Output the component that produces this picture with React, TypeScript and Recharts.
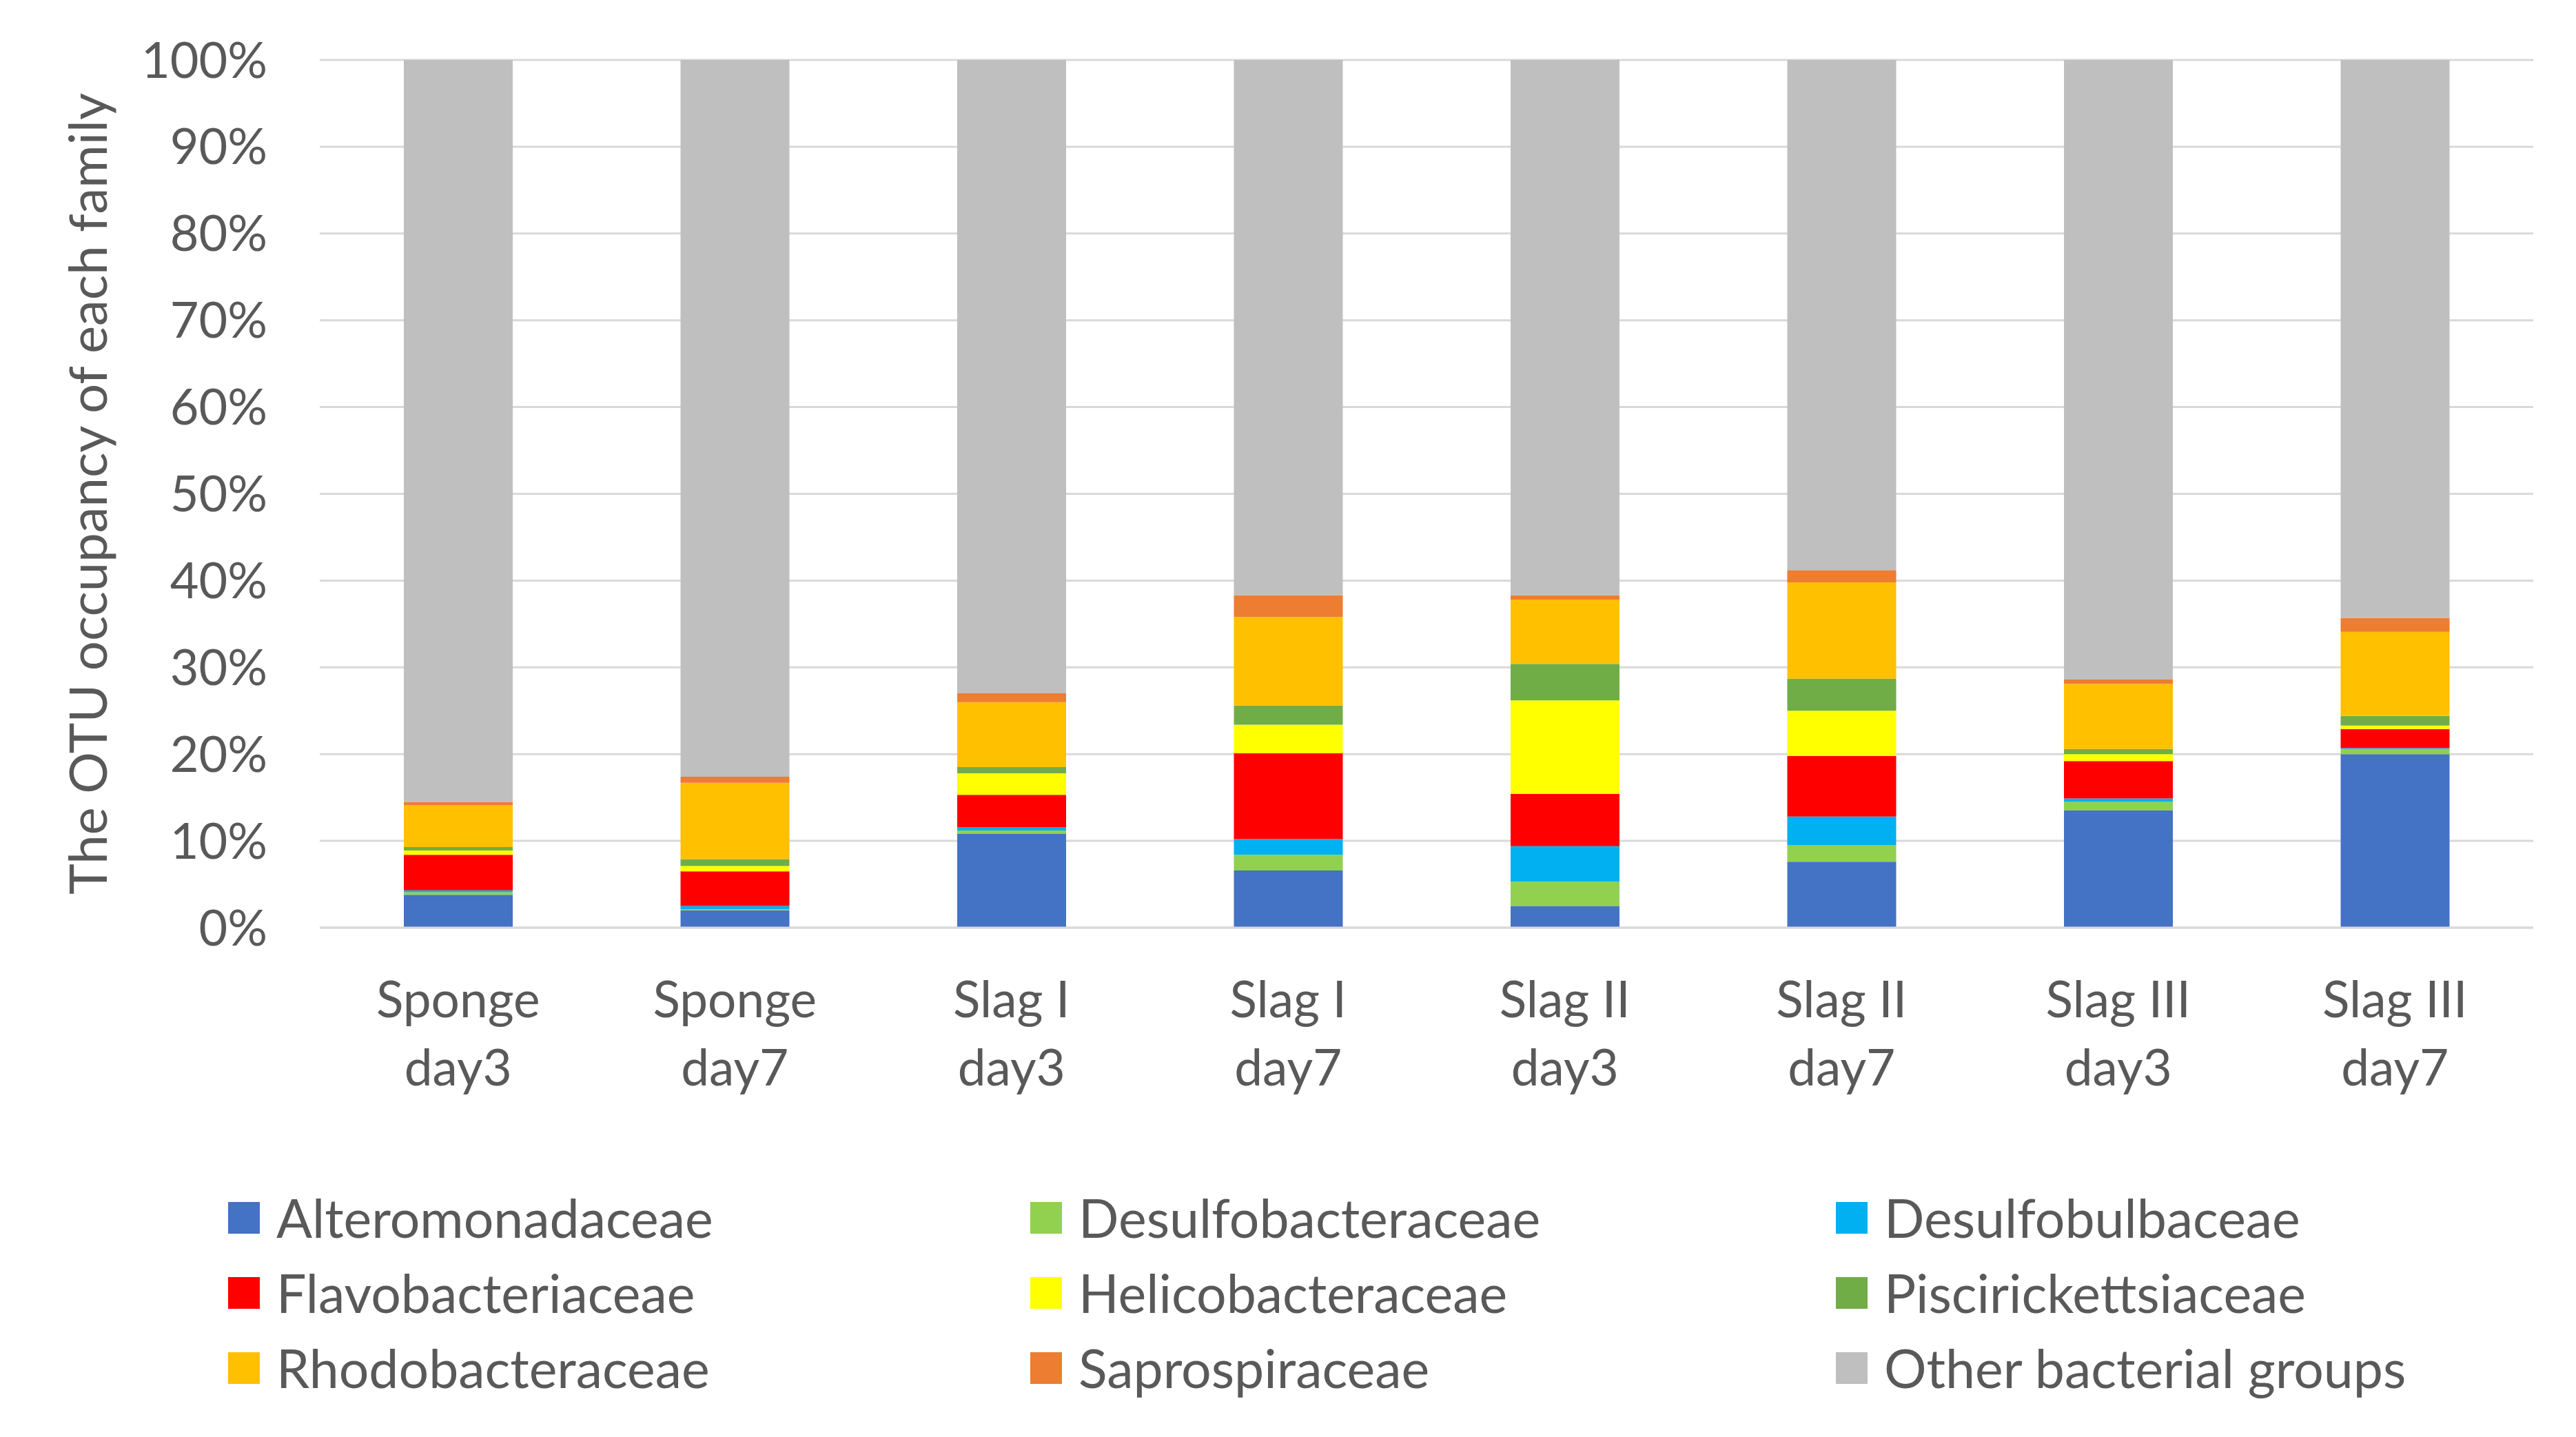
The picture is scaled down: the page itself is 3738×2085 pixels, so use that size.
import React from 'react';
import { BarChart, Bar, XAxis, YAxis, CartesianGrid, Legend } from 'recharts';

// sample groups, two-line labels
const categories = [
    'Sponge\nday3', 'Sponge\nday7', 'Slag I\nday3', 'Slag I\nday7',
    'Slag II\nday3', 'Slag II\nday7', 'Slag III\nday3', 'Slag III\nday7',
];

// share of OTUs per family (%) bottom to top
const alteromonadaceae = [3.8, 2.0, 10.8, 6.6, 2.5, 7.6, 13.5, 20.0];
const desulfobacteraceae = [0.3, 0.1, 0.4, 1.8, 2.8, 1.9, 1.0, 0.6];
const desulfobulbaceae = [0.2, 0.4, 0.4, 1.8, 4.1, 3.3, 0.4, 0.1];
const flavobacteriaceae = [4.1, 4.0, 3.7, 9.9, 6.0, 7.0, 4.3, 2.2];
const helicobacteraceae = [0.5, 0.6, 2.5, 3.3, 10.8, 5.2, 0.8, 0.4];
const piscirickettsiaceae = [0.4, 0.8, 0.7, 2.2, 4.2, 3.7, 0.6, 1.1];
const rhodobacteraceae = [4.8, 8.8, 7.5, 10.2, 7.4, 11.1, 7.5, 9.7];
const saprospiraceae = [0.4, 0.7, 1.0, 2.5, 0.5, 1.4, 0.5, 1.6];
const otherGroups = [85.5, 82.6, 73.0, 61.7, 61.7, 58.8, 71.4, 64.3];

const yTicks = [0, 10, 20, 30, 40, 50, 60, 70, 80, 90, 100];

const families = [
    { key: 'Alteromonadaceae', values: alteromonadaceae, color: '#4472C4' },
    { key: 'Desulfobacteraceae', values: desulfobacteraceae, color: '#92D050' },
    { key: 'Desulfobulbaceae', values: desulfobulbaceae, color: '#00B0F0' },
    { key: 'Flavobacteriaceae', values: flavobacteriaceae, color: '#FF0000' },
    { key: 'Helicobacteraceae', values: helicobacteraceae, color: '#FFFF00' },
    { key: 'Piscirickettsiaceae', values: piscirickettsiaceae, color: '#70AD47' },
    { key: 'Rhodobacteraceae', values: rhodobacteraceae, color: '#FFC000' },
    { key: 'Saprospiraceae', values: saprospiraceae, color: '#ED7D31' },
    { key: 'Other bacterial groups', values: otherGroups, color: '#BFBFBF' },
];

const data = categories.map((name, i) => {
    const row: Record<string, any> = { name };
    families.forEach((f) => { row[f.key] = f.values[i]; });
    return row;
});

const FONT = 'Lato, "Liberation Sans", sans-serif';
const TEXT = '#595959';

const CategoryTick = (props: any) => {
    const { x, y, payload } = props;
    const lines = String(payload.value).split('\n');
    return (
        <g transform={`translate(${x},${y})`}>
            {lines.map((line, i) => (
                <text key={i} x={0} y={130 + i * 99} textAnchor="middle" fill={TEXT} fontSize={73} fontFamily={FONT}>
                    {line}
                </text>
            ))}
        </g>
    );
};

const AxisTitle = (props: any) => {
    const { viewBox } = props;
    const cx = 125;
    const cy = viewBox.y + viewBox.height / 2;
    return (
        <text x={cx} y={cy} transform={`rotate(-90, ${cx}, ${cy})`} textAnchor="middle" dominantBaseline="central"
            fill={TEXT} fontSize={76} fontFamily={FONT}>
            The OTU occupancy of each family
        </text>
    );
};

const FamilyLegend = () => (
    <div style={{ display: 'grid', gridTemplateColumns: '1164px 1169px 1000px', paddingLeft: 331 }}>
        {families.map((f) => (
            <div key={f.key} style={{ display: 'flex', alignItems: 'center', height: 109 }}>
                <div style={{ width: 46, height: 46, backgroundColor: f.color, marginRight: 24, flexShrink: 0 }} />
                <span style={{ fontFamily: FONT, fontSize: 77, color: TEXT, whiteSpace: 'nowrap', lineHeight: 1 }}>{f.key}</span>
            </div>
        ))}
    </div>
);

export default function App() {
    return (
        <div style={{ position: 'absolute', left: 0, top: 0, width: 3738, height: 2085, background: '#fff' }}>
            <BarChart width={3738} height={2085} data={data} margin={{ top: 87, right: 62, left: 0, bottom: 179 }} barSize={158}>
                <CartesianGrid vertical={false} stroke="#D9D9D9" strokeWidth={3} />
                <XAxis dataKey="name" height={230} tickLine={false} axisLine={{ stroke: '#D9D9D9', strokeWidth: 3 }}
                    tickSize={0} tickMargin={0} tick={<CategoryTick />} interval={0} />
                <YAxis width={464} domain={[0, 100]} ticks={yTicks} tickFormatter={(v) => `${v}%`}
                    tickLine={false} axisLine={false} tickSize={0} tickMargin={76}
                    tick={{ fill: TEXT, fontSize: 72, fontFamily: FONT }} label={<AxisTitle />} />
                <Legend height={330} content={<FamilyLegend />}
                    wrapperStyle={{ left: 0, top: 1712, bottom: 'auto', width: 3738 }} />
                {families.map((f) => (
                    <Bar key={f.key} dataKey={f.key} stackId="a" fill={f.color} isAnimationActive={false} />
                ))}
            </BarChart>
        </div>
    );
}
